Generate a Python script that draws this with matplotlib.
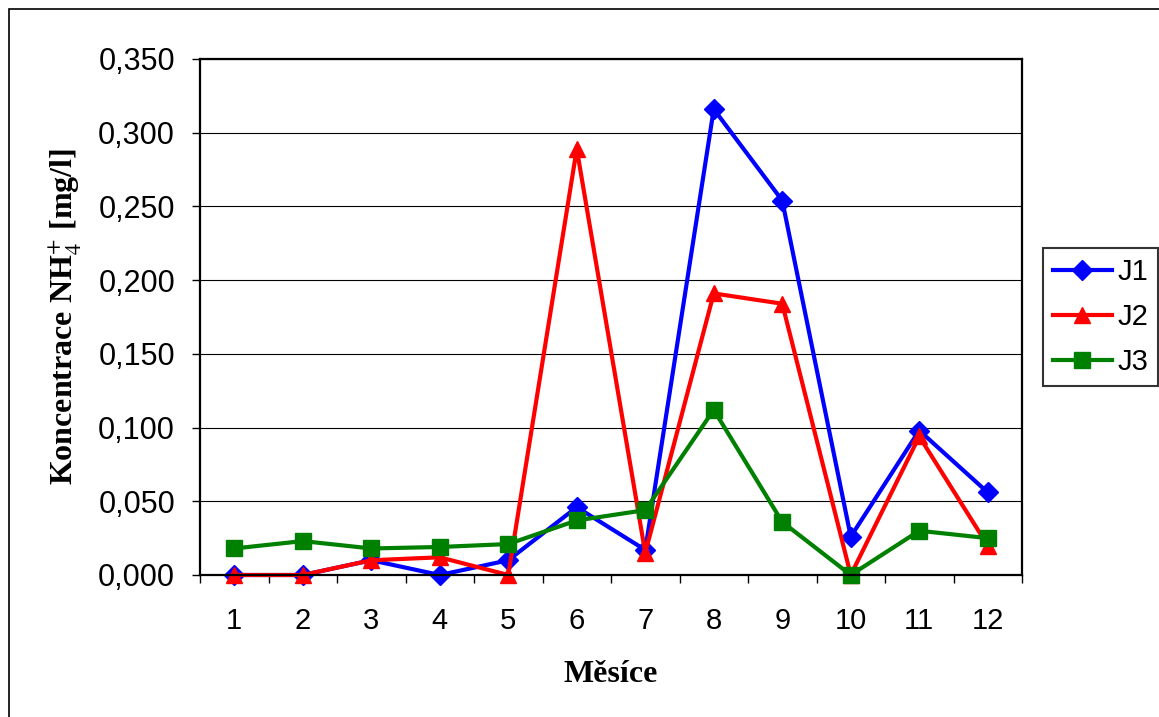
import matplotlib
matplotlib.use("Agg")
import matplotlib.pyplot as plt
from matplotlib.patches import Rectangle
from matplotlib.ticker import FuncFormatter, MultipleLocator

months = list(range(1, 13))
j1 = [0.000, 0.000, 0.010, 0.000, 0.010, 0.046, 0.017, 0.316, 0.254, 0.026, 0.098, 0.056]
j2 = [0.000, 0.000, 0.010, 0.012, 0.000, 0.289, 0.015, 0.191, 0.184, 0.000, 0.094, 0.020]
j3 = [0.018, 0.023, 0.018, 0.019, 0.021, 0.037, 0.044, 0.112, 0.036, 0.000, 0.030, 0.025]

plt.rcParams["mathtext.fontset"] = "stix"

fig = plt.figure(figsize=(11.59, 7.17), dpi=100)
ax = fig.add_axes([200 / 1159, 142 / 717, 822 / 1159, 516 / 717])

# outer chart border
fig.patches.append(Rectangle((9 / 1159, -0.05), 1.2, (717 - 9) / 717 + 0.05,
                             transform=fig.transFigure, fill=False,
                             edgecolor="black", linewidth=1.2))

ax.plot(months, j1, color="blue", lw=3, marker="D", ms=10, label="J1", clip_on=False)
ax.plot(months, j2, color="red", lw=3, marker="^", ms=12, label="J2", clip_on=False)
ax.plot(months, j3, color="green", lw=3, marker="s", ms=11, label="J3", clip_on=False)

ax.set_xlim(0.5, 12.5)
ax.set_ylim(0, 0.35)
ax.yaxis.set_major_locator(MultipleLocator(0.05))
ax.yaxis.set_major_formatter(FuncFormatter(lambda v, p: f"{v:.3f}".replace(".", ",")))
ax.grid(axis="y", color="black", lw=0.8)
ax.set_axisbelow(True)

ax.set_xticks(months)
ax.set_xticks([m + 0.5 for m in range(0, 13)], minor=True)
ax.tick_params(axis="x", which="major", length=0, pad=23, labelsize=21)
ax.tick_params(axis="x", which="minor", length=6, width=1, direction="out")
ax.tick_params(axis="y", length=6, width=1, pad=12, labelsize=22)
for lab in ax.get_xticklabels() + ax.get_yticklabels():
    lab.set_family("Liberation Sans")

for s in ax.spines.values():
    s.set_linewidth(1.6)
    s.set_color("black")

ax.set_xlabel("Měsíce", family="Liberation Serif", weight="bold", fontsize=23, labelpad=18)
ax.set_ylabel(r"Koncentrace NH$_\mathrm{4}^\mathrm{+}$ [mg/l]", family="Liberation Serif",
              weight="bold", fontsize=23, labelpad=10)

leg = ax.legend(loc="upper left", bbox_to_anchor=(1043 / 1159, (717 - 248) / 717),
                bbox_transform=fig.transFigure, frameon=True, fancybox=False,
                prop={"family": "Liberation Sans", "size": 21},
                handlelength=2.0, borderpad=0.35, labelspacing=0.58, handletextpad=0.2,
                borderaxespad=0)
leg.get_frame().set_edgecolor("black")
leg.get_frame().set_linewidth(1.5)

fig.savefig("out.png", dpi=100)
